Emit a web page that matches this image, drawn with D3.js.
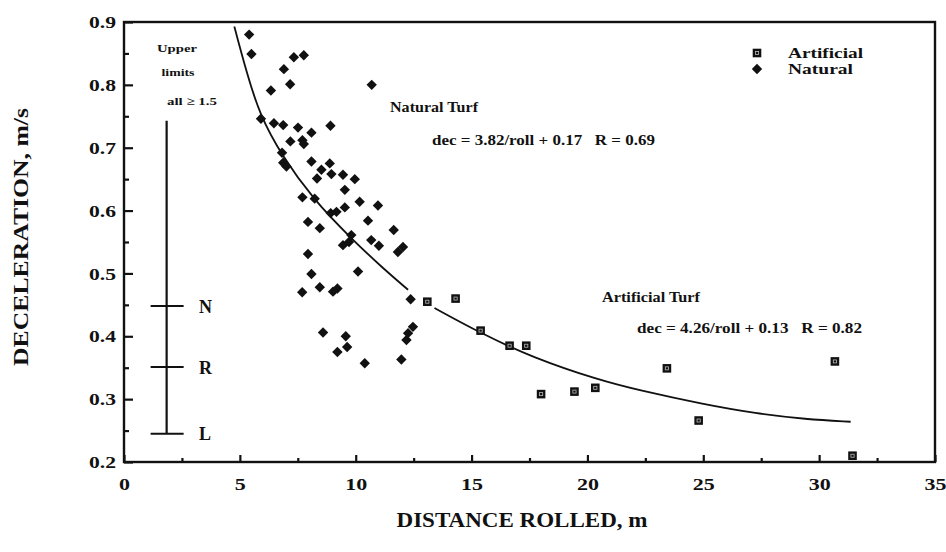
<!DOCTYPE html>
<html><head><meta charset="utf-8">
<script src="https://cdn.jsdelivr.net/npm/d3@7"></script>
<style>
body{margin:0;background:#fff}
svg{display:block}
text{font-family:"Liberation Serif","Times New Roman",serif;font-weight:bold;fill:#111}
</style>
</head><body>
<svg id="c" width="946" height="552"></svg>
<script>
// ---------- data ----------
const xMajorTicks = [0, 5, 10, 15, 20, 25, 30, 35];
const xMinorTicks = [2.5, 7.5, 12.5, 17.5, 22.5, 27.5, 32.5];
const yMajorTicks = [0.2, 0.3, 0.4, 0.5, 0.6, 0.7, 0.8, 0.9];
const yMinorTicks = [0.25, 0.35, 0.45, 0.55, 0.65, 0.75, 0.85];

// Natural turf: [distance rolled (m), deceleration]
const natural = [
  [5.40,0.880],[5.50,0.849],[6.90,0.825],[7.33,0.844],[7.76,0.847],[6.34,0.791],[7.17,0.801],
  [10.69,0.800],[5.91,0.746],[6.47,0.739],[6.87,0.736],[7.51,0.732],[8.91,0.735],[8.09,0.724],
  [7.18,0.710],[7.70,0.712],[7.76,0.706],[6.82,0.692],[6.87,0.676],[7.01,0.670],[8.09,0.678],
  [8.88,0.675],[8.52,0.665],[8.33,0.651],[8.95,0.658],[9.45,0.657],[9.96,0.650],[9.53,0.633],
  [7.70,0.621],[8.23,0.619],[10.17,0.614],[10.96,0.608],[8.92,0.596],[9.17,0.598],[9.53,0.605],
  [7.94,0.582],[10.53,0.584],[8.45,0.572],[11.64,0.569],[9.81,0.561],[9.45,0.545],[9.71,0.550],
  [10.67,0.553],[11.00,0.544],[11.82,0.534],[12.04,0.542],[7.94,0.531],[8.09,0.499],[10.10,0.503],
  [8.45,0.478],[7.69,0.470],[9.02,0.471],[9.21,0.476],[12.37,0.459],[12.47,0.415],[12.26,0.405],
  [12.19,0.394],[8.59,0.406],[9.57,0.400],[9.63,0.383],[9.21,0.375],[10.39,0.357],[11.97,0.363]
];
// Artificial turf
const artificial = [
  [13.09,0.455],[14.31,0.460],[15.39,0.409],[16.64,0.385],[17.36,0.385],[18.00,0.308],
  [19.44,0.312],[20.34,0.318],[23.43,0.349],[24.80,0.266],[30.68,0.360],[31.44,0.210]
];
// Fitted curves as drawn in the reference
const naturalFit = [
  [4.76,0.893],[5.29,0.820],[5.86,0.752],[6.80,0.688],[8.19,0.617],[9.74,0.558],[11.18,0.508],[12.26,0.474]
];
const artificialFit = [
  [13.40,0.445],[15.39,0.405],[17.64,0.366],[20.52,0.330],[22.24,0.314],[24.97,0.292],
  [27.27,0.277],[29.43,0.268],[31.36,0.264]
];
// Upper limit bar
const limitBarX = 1.84;
const limitBarTop = 0.743;
const limitLevels = [
  {label: "N", value: 0.448},
  {label: "R", value: 0.351},
  {label: "L", value: 0.245}
];
const legendItems = ["Artificial", "Natural"];

// ---------- drawing ----------
const svg = d3.select("#c");
const L = 124, R = 935, T = 22, B = 462;
const x = d3.scaleLinear().domain([0, 35]).range([L, R]);
const y = d3.scaleLinear().domain([0.2, 0.9]).range([B, T]);

// axes
const gx = svg.append("g").attr("transform", `translate(0,${B})`)
  .call(d3.axisBottom(x).tickValues(xMajorTicks).tickSizeInner(-7).tickSizeOuter(0)
        .tickPadding(16).tickFormat(d3.format("d")));
svg.append("g").attr("transform", `translate(0,${B})`)
  .call(d3.axisBottom(x).tickValues(xMinorTicks).tickSizeInner(-4).tickSizeOuter(0).tickFormat(""));
const gy = svg.append("g").attr("transform", `translate(${L},0)`)
  .call(d3.axisLeft(y).tickValues(yMajorTicks).tickSizeInner(-9).tickSizeOuter(0)
        .tickPadding(8).tickFormat(d3.format(".1f")));
svg.append("g").attr("transform", `translate(${L},0)`)
  .call(d3.axisLeft(y).tickValues(yMinorTicks).tickSizeInner(-5).tickSizeOuter(0).tickFormat(""));
svg.selectAll(".domain").remove();
svg.selectAll(".tick line").attr("stroke", "#111").attr("stroke-width", 2.2);
svg.selectAll(".tick text").attr("font-size", 17.5).attr("fill", "#111")
   .attr("font-family", '"Liberation Serif","Times New Roman",serif').attr("font-weight", "bold");
gx.selectAll(".tick text").attr("textLength", d => d < 10 ? 11 : 22).attr("lengthAdjust", "spacingAndGlyphs");
gy.selectAll(".tick text").attr("textLength", 27).attr("lengthAdjust", "spacingAndGlyphs");

// frame
svg.append("rect").attr("x", L).attr("y", T).attr("width", R - L).attr("height", B - T)
  .attr("fill", "none").attr("stroke", "#111").attr("stroke-width", 2.4);

// axis titles
svg.append("text").attr("x", 522).attr("y", 527).attr("text-anchor", "middle")
  .attr("font-size", 21).attr("textLength", 251).attr("lengthAdjust", "spacingAndGlyphs")
  .text("DISTANCE ROLLED, m");
svg.append("text").attr("transform", "translate(28,237) rotate(-90)").attr("text-anchor", "middle")
  .attr("font-size", 21).attr("textLength", 258).attr("lengthAdjust", "spacingAndGlyphs")
  .text("DECELERATION, m/s");

// fitted curves
const line = d3.line().x(d => x(d[0])).y(d => y(d[1])).curve(d3.curveBasis);
[naturalFit, artificialFit].forEach(s => {
  svg.append("path").attr("d", line(s)).attr("fill", "none")
    .attr("stroke", "#111").attr("stroke-width", 1.8);
});

// upper-limit bar
svg.append("line").attr("x1", x(limitBarX)).attr("x2", x(limitBarX))
  .attr("y1", y(limitBarTop)).attr("y2", y(limitLevels[2].value))
  .attr("stroke", "#111").attr("stroke-width", 2.2);
svg.selectAll(".lim").data(limitLevels).join("line")
  .attr("x1", x(limitBarX) - 16).attr("x2", x(limitBarX) + 17)
  .attr("y1", d => y(d.value)).attr("y2", d => y(d.value))
  .attr("stroke", "#111").attr("stroke-width", 2);
svg.selectAll(".limt").data(limitLevels).join("text")
  .attr("x", 199).attr("y", d => y(d.value) + 6.5)
  .attr("font-size", 18).text(d => d.label);
svg.append("text").attr("x", 177).attr("y", 52).attr("text-anchor", "middle").attr("font-size", 11)
  .attr("textLength", 40).attr("lengthAdjust", "spacingAndGlyphs").text("Upper");
svg.append("text").attr("x", 178).attr("y", 76).attr("text-anchor", "middle").attr("font-size", 11)
  .attr("textLength", 33).attr("lengthAdjust", "spacingAndGlyphs").text("limits");
svg.append("text").attr("x", 167).attr("y", 105).attr("font-size", 11)
  .attr("textLength", 50).attr("lengthAdjust", "spacingAndGlyphs").text("all \u2265 1.5");

// markers
const diamond = d3.symbol(d3.symbolSquare, 54)();
svg.append("g").selectAll("path").data(natural).join("path")
  .attr("d", diamond)
  .attr("transform", d => `translate(${x(d[0])},${y(d[1])}) rotate(45)`)
  .attr("fill", "#111");

function drawSquare(g) {
  g.append("rect").attr("x", -4.3).attr("y", -4.3).attr("width", 8.6).attr("height", 8.6)
    .attr("fill", "#111");
  g.append("rect").attr("x", -1.6).attr("y", -1.5).attr("width", 3.2).attr("height", 3)
    .attr("fill", "none").attr("stroke", "#bbb").attr("stroke-width", 0.8);
}
svg.append("g").selectAll("g").data(artificial).join("g")
  .attr("transform", d => `translate(${x(d[0])},${y(d[1])})`)
  .each(function () { drawSquare(d3.select(this)); });

// annotations
svg.append("text").attr("x", 390).attr("y", 112).attr("font-size", 15)
  .attr("textLength", 88).attr("lengthAdjust", "spacingAndGlyphs").text("Natural Turf");
svg.append("text").attr("x", 432).attr("y", 145).attr("font-size", 15.5)
  .attr("textLength", 223).attr("lengthAdjust", "spacingAndGlyphs")
  .style("white-space", "pre")
  .text("dec = 3.82/roll + 0.17   R = 0.69");
svg.append("text").attr("x", 602).attr("y", 302).attr("font-size", 15)
  .attr("textLength", 98).attr("lengthAdjust", "spacingAndGlyphs").text("Artificial Turf");
svg.append("text").attr("x", 637).attr("y", 333).attr("font-size", 15.5)
  .attr("textLength", 225).attr("lengthAdjust", "spacingAndGlyphs")
  .style("white-space", "pre")
  .text("dec = 4.26/roll + 0.13   R = 0.82");

// legend
const lg = svg.append("g");
const sq = lg.append("g").attr("transform", "translate(757,53)");
drawSquare(sq);
lg.append("path").attr("d", diamond).attr("transform", "translate(757,69) rotate(45)").attr("fill", "#111");
lg.selectAll("text").data(legendItems).join("text")
  .attr("x", 788).attr("y", (d, i) => 58 + i * 16)
  .attr("font-size", 15).attr("textLength", (d, i) => i === 0 ? 75 : 65)
  .attr("lengthAdjust", "spacingAndGlyphs").text(d => d);
</script>
</body></html>
